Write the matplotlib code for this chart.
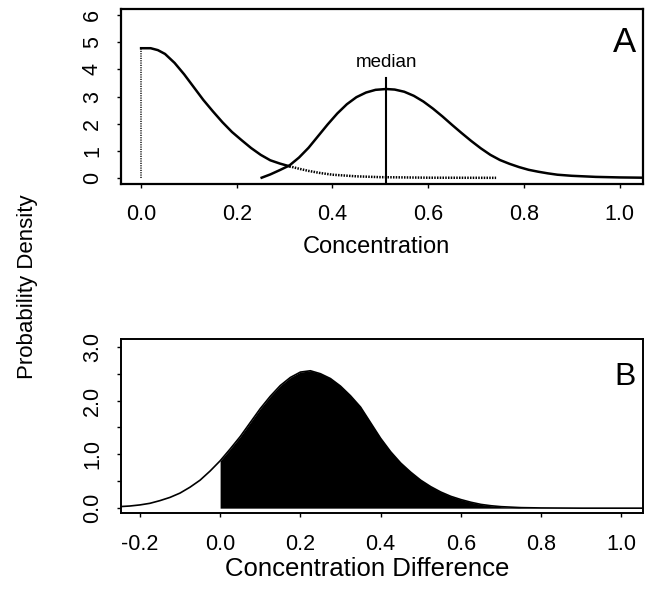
import matplotlib
matplotlib.use("Agg")
import matplotlib.pyplot as plt
import numpy as np

plt.rcParams['font.family'] = ['Liberation Sans', 'DejaVu Sans']

# panel A: dotted curve (starts with a vertical edge at zero)
a1_x = [0.0, 0.0, 0.02, 0.035, 0.05, 0.07, 0.09, 0.11, 0.13, 0.15, 0.17, 0.19,
        0.21, 0.23, 0.25, 0.27, 0.29, 0.31, 0.33, 0.35, 0.375, 0.40, 0.45, 0.50,
        0.55, 0.60, 0.742]
a1_y = [0.0, 4.78, 4.78, 4.71, 4.57, 4.24, 3.82, 3.35, 2.88, 2.46, 2.06, 1.70,
        1.40, 1.11, 0.86, 0.66, 0.54, 0.44, 0.35, 0.27, 0.19, 0.13, 0.07, 0.04,
        0.03, 0.02, 0.015]
a1_solid_end = 17   # index where the drawn curve turns into visible dots

# panel A: solid curve
a2_x = [0.252, 0.27, 0.29, 0.31, 0.33, 0.35, 0.37, 0.39, 0.41, 0.43, 0.45, 0.47,
        0.49, 0.512, 0.53, 0.55, 0.57, 0.59, 0.61, 0.63, 0.65, 0.67, 0.69, 0.71,
        0.73, 0.75, 0.77, 0.79, 0.81, 0.83, 0.85, 0.87, 0.90, 0.95, 1.0, 1.05]
a2_y = [0.02, 0.14, 0.30, 0.47, 0.76, 1.12, 1.55, 1.98, 2.38, 2.72, 2.98, 3.15,
        3.25, 3.28, 3.26, 3.18, 3.03, 2.82, 2.56, 2.27, 1.96, 1.66, 1.37, 1.10,
        0.86, 0.67, 0.53, 0.41, 0.31, 0.24, 0.18, 0.13, 0.09, 0.05, 0.03, 0.02]
median_x = 0.512
median_top = 3.7

# panel B: difference density
b_x = [-0.247, -0.225, -0.2, -0.175, -0.15, -0.125, -0.1, -0.075, -0.05, -0.025,
       0.0, 0.025, 0.05, 0.075, 0.1, 0.125, 0.15, 0.175, 0.2, 0.225,
       0.25, 0.275, 0.3, 0.325, 0.35, 0.375, 0.4, 0.425, 0.45, 0.475,
       0.5, 0.525, 0.55, 0.575, 0.6, 0.625, 0.65, 0.675, 0.7, 0.75,
       0.8, 0.9, 1.054]
b_y = [0.03, 0.04, 0.06, 0.09, 0.14, 0.20, 0.28, 0.39, 0.52, 0.69,
       0.88, 1.10, 1.33, 1.59, 1.85, 2.08, 2.28, 2.43, 2.53, 2.555,
       2.50, 2.41, 2.27, 2.09, 1.88, 1.59, 1.30, 1.05, 0.84, 0.67,
       0.52, 0.40, 0.30, 0.22, 0.16, 0.11, 0.07, 0.045, 0.028, 0.01,
       0.004, 0.0, 0.0]

a_xticks = [0.0, 0.2, 0.4, 0.6, 0.8, 1.0]
a_yticks = [0, 1, 2, 3, 4, 5, 6]
b_xticks = [-0.2, 0.0, 0.2, 0.4, 0.6, 0.8, 1.0]
b_yticks = [0.0, 1.0, 2.0, 3.0]

W, H = 648, 594
fig = plt.figure(figsize=(W / 100, H / 100), dpi=100)

def box(l, t, r, b):
    return [l / W, 1 - b / H, (r - l) / W, (b - t) / H]

tick_font = 15.5

# ---- panel A
ax1 = fig.add_axes(box(121, 8.5, 643, 184.5))
ax1.plot(a1_x[:2], a1_y[:2], color='#444444', lw=1.4, linestyle=(0, (0.6, 0.6)))
ax1.plot(a1_x[1:a1_solid_end + 1], a1_y[1:a1_solid_end + 1], color='black', lw=1.8)
ax1.plot(a1_x[a1_solid_end:], a1_y[a1_solid_end:], color='black', lw=1.8,
         linestyle=(0, (0.6, 0.5)))
ax1.plot(a2_x, a2_y, color='black', lw=1.8)
ax1.plot([median_x, median_x], [-0.25, median_top], color='black', lw=1.5)
ax1.text(median_x, 4.27, 'median', ha='center', va='center', fontsize=13.5)
ax1.text(0.965, 0.807, 'A', transform=ax1.transAxes, ha='center', va='center', fontsize=25)
ax1.set_xlim(-0.042, 1.049)
ax1.set_ylim(-0.23, 6.24)
ax1.set_xticks(a_xticks)
ax1.set_xticklabels(['%.1f' % v for v in a_xticks], fontsize=tick_font)
ax1.set_yticks(a_yticks)
ax1.set_yticklabels([str(v) for v in a_yticks], fontsize=tick_font, rotation=90, va='center')
ax1.tick_params(axis='x', length=3, width=1, pad=11)
ax1.tick_params(axis='y', length=3, width=1, pad=10)
for s in ax1.spines.values():
    s.set_linewidth(1.6)

# ---- panel B
ax2 = fig.add_axes(box(121, 339.3, 643, 513))
bx = np.array(b_x)
by = np.array(b_y)
ax2.plot(bx, by, color='black', lw=1.2)
ax2.fill_between(bx, 0, by, where=bx >= 0, color='black', lw=0)
ax2.text(0.965, 0.785, 'B', transform=ax2.transAxes, ha='center', va='center', fontsize=23)
ax2.set_xlim(-0.247, 1.054)
ax2.set_ylim(-0.09, 3.14)
ax2.set_xticks(b_xticks)
ax2.set_xticklabels(['%.1f' % v for v in b_xticks], fontsize=tick_font)
ax2.set_yticks(b_yticks)
ax2.set_yticks([0.5, 1.5, 2.5], minor=True)
ax2.set_yticklabels(['%.1f' % v for v in b_yticks], fontsize=tick_font, rotation=90, va='center')
ax2.tick_params(axis='x', length=3, width=1, pad=12)
ax2.tick_params(axis='y', which='both', length=3, width=1, pad=10)
for s in ax2.spines.values():
    s.set_linewidth(1.4)

fig.text(376 / W, 1 - 247 / H, 'Concentration', ha='center', va='center', fontsize=17)
fig.text(367 / W, 1 - 569 / H, 'Concentration Difference', ha='center', va='center', fontsize=18.5)
fig.text(28 / W, 1 - 287 / H, 'Probability Density', ha='center', va='center',
         rotation=90, fontsize=16)

fig.savefig('out.png', dpi=100)
